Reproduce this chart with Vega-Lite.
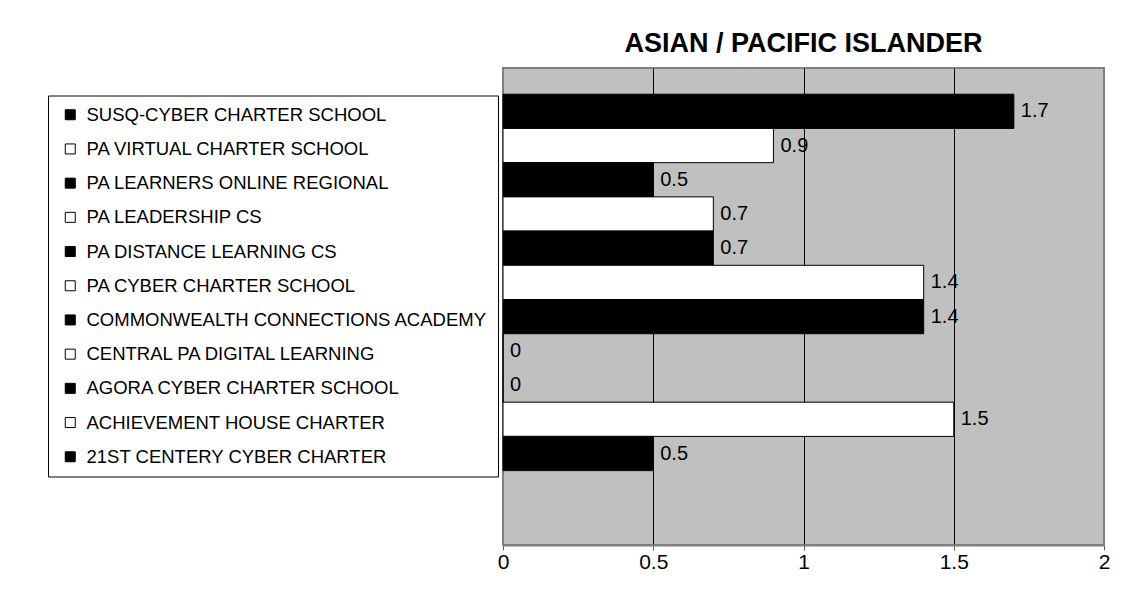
{
  "$schema": "https://vega.github.io/schema/vega-lite/v6.json",
  "width": 601,
  "height": 477,
  "autosize": {"type": "none"},
  "padding": {"left": 503, "top": 68, "right": 34, "bottom": 53},
  "background": "white",
  "title": {"text": "ASIAN / PACIFIC ISLANDER", "fontSize": 27, "font": "Liberation Sans", "fontWeight": "bold", "color": "black", "anchor": "middle", "offset": 10},
  "config": {
    "view": {"fill": "#C0C0C0", "stroke": "#808080", "strokeWidth": 2},
    "font": "Liberation Sans"
  },
  "data": {"values": [
    {"school": "SUSQ-CYBER CHARTER SCHOOL", "value": 1.7},
    {"school": "PA VIRTUAL CHARTER SCHOOL", "value": 0.9},
    {"school": "PA LEARNERS ONLINE REGIONAL", "value": 0.5},
    {"school": "PA LEADERSHIP CS", "value": 0.7},
    {"school": "PA DISTANCE LEARNING CS", "value": 0.7},
    {"school": "PA CYBER CHARTER SCHOOL", "value": 1.4},
    {"school": "COMMONWEALTH CONNECTIONS ACADEMY", "value": 1.4},
    {"school": "CENTRAL PA DIGITAL LEARNING", "value": 0},
    {"school": "AGORA CYBER CHARTER SCHOOL", "value": 0},
    {"school": "ACHIEVEMENT HOUSE CHARTER", "value": 1.5},
    {"school": "21ST CENTERY CYBER CHARTER", "value": 0.5}
  ]},
  "encoding": {
    "y": {
      "field": "school", "type": "nominal",
      "scale": {
        "domain": ["SUSQ-CYBER CHARTER SCHOOL", "PA VIRTUAL CHARTER SCHOOL", "PA LEARNERS ONLINE REGIONAL", "PA LEADERSHIP CS", "PA DISTANCE LEARNING CS", "PA CYBER CHARTER SCHOOL", "COMMONWEALTH CONNECTIONS ACADEMY", "CENTRAL PA DIGITAL LEARNING", "AGORA CYBER CHARTER SCHOOL", "ACHIEVEMENT HOUSE CHARTER", "21ST CENTERY CYBER CHARTER", " "],
        "paddingInner": 0, "paddingOuter": 0.97, "align": 0.395
      },
      "axis": null
    },
    "x": {
      "field": "value", "type": "quantitative",
      "scale": {"domain": [0, 2], "nice": false},
      "axis": {
        "title": null,
        "values": [0, 0.5, 1, 1.5, 2],
        "format": "~g",
        "grid": true,
        "gridColor": {"condition": {"test": "datum.value == 0 || datum.value == 2", "value": "#808080"}, "value": "black"},
        "gridWidth": 1,
        "domain": true,
        "domainColor": "#808080",
        "domainWidth": 2,
        "ticks": true,
        "tickColor": "#606060",
        "tickSize": 5,
        "labelFontSize": 21,
        "labelFont": "Liberation Sans",
        "labelColor": "black",
        "labelPadding": 1,
        "labelFlush": false
      }
    }
  },
  "layer": [
    {
      "mark": {"type": "bar", "stroke": "black", "strokeWidth": 1},
      "encoding": {
        "fill": {
          "field": "school", "type": "nominal",
          "scale": {
            "domain": ["SUSQ-CYBER CHARTER SCHOOL", "PA VIRTUAL CHARTER SCHOOL", "PA LEARNERS ONLINE REGIONAL", "PA LEADERSHIP CS", "PA DISTANCE LEARNING CS", "PA CYBER CHARTER SCHOOL", "COMMONWEALTH CONNECTIONS ACADEMY", "CENTRAL PA DIGITAL LEARNING", "AGORA CYBER CHARTER SCHOOL", "ACHIEVEMENT HOUSE CHARTER", "21ST CENTERY CYBER CHARTER"],
            "range": ["black", "white", "black", "white", "black", "white", "black", "white", "black", "white", "black"]
          },
          "legend": {
            "orient": "none",
            "legendX": -455,
            "legendY": 27.5,
            "title": null,
            "strokeColor": "black",
            "fillColor": "white",
            "padding": 10,
            "symbolType": "square",
            "symbolSize": 100,
            "symbolStrokeColor": "black",
            "symbolStrokeWidth": 1,
            "symbolOffset": 3,
            "labelFontSize": 18.5,
            "labelFont": "Liberation Sans",
            "labelColor": "black",
            "labelOffset": 7,
            "labelLimit": 600,
            "rowPadding": 15.2
          }
        }
      }
    },
    {
      "mark": {"type": "text", "align": "left", "baseline": "middle", "dx": 7, "fontSize": 20, "font": "Liberation Sans", "color": "black"},
      "encoding": {
        "text": {"field": "value", "type": "quantitative", "format": "~g"}
      }
    }
  ]
}
